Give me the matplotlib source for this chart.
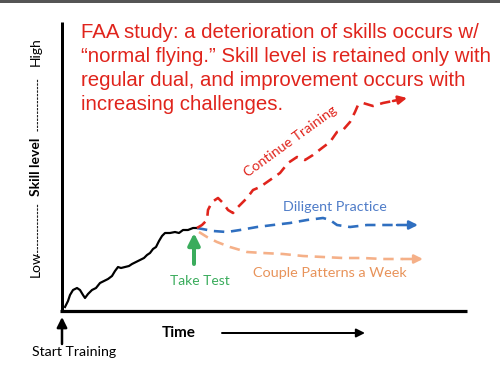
import matplotlib
matplotlib.use("Agg")
import matplotlib.pyplot as plt
import numpy as np

# ---- data (pixel coordinates of the sketch, y downward) ----
title_lines = [
    "FAA study: a deterioration of skills occurs w/",
    "\u201cnormal flying.\u201d Skill level is retained only with",
    "regular dual, and improvement occurs with",
    "increasing challenges.",
]

base_x = [65, 68, 70, 73, 77, 80, 83, 85, 88, 92, 96, 100, 104, 108, 112, 115, 118, 121, 125, 129,
          132, 136, 140, 144, 147, 150, 153, 156, 159, 162, 165, 170, 175, 179, 183, 188, 193, 197]
base_y = [307, 301, 295, 290, 288, 290, 295, 298, 294, 290, 288, 283, 281, 279, 276, 271, 267, 268,
          267, 266, 264, 262, 260, 258, 255, 253, 249, 247, 241, 236, 233, 233, 232, 233, 230, 230, 228, 228]

train_x = [197, 202, 207, 208, 212, 218, 223, 228, 233, 238, 247, 253, 260, 270, 280, 288, 297, 305,
           313, 322, 330, 337, 343, 350, 355, 358, 363, 373, 383, 393, 407]
train_y = [228, 225, 220, 210, 202, 198, 203, 210, 213, 207, 198, 190, 187, 180, 173, 163, 157, 160,
           155, 148, 142, 132, 130, 122, 112, 105, 103, 106, 103, 101, 98]

dilig_x = [197, 213, 227, 240, 257, 273, 290, 307, 323, 330, 337, 350, 367, 383, 397, 418]
dilig_y = [228, 231, 232, 230, 227, 225, 223, 220, 218, 220, 225, 227, 225, 225, 225, 225]

couple_x = [199, 207, 217, 230, 247, 263, 283, 303, 323, 343, 363, 383, 403, 423]
couple_y = [232, 237, 242, 247, 252, 253, 254, 256, 257, 258, 258, 259, 259, 259]

RED = "#e0241c"
BLUE = "#2f6fc0"
BLUE_T = "#4f7cc8"
ORANGE = "#f5b088"
ORANGE_T = "#e8935a"
GREEN = "#3aac5c"

fig = plt.figure(figsize=(5, 3.79), dpi=100)
ax = fig.add_axes([0, 0, 1, 1])
ax.set_xlim(0, 500)
ax.set_ylim(379, 0)
ax.axis("off")

PX = 72 / 100  # points per pixel

# top border
ax.fill_between([0, 500], 0, 2.5, color="#555555", lw=0)

# axes of the sketch
ax.plot([61.5, 61.5], [22, 311], color="black", lw=3 * PX, solid_capstyle="butt")
ax.plot([60, 467], [310.5, 310.5], color="black", lw=3.2 * PX, solid_capstyle="butt")

# title
for i, t in enumerate(title_lines):
    ax.text(81, 32 + i * 24, t, color=RED, fontsize=14.7, family="Liberation Sans",
            ha="left", va="center")

# y label
lab_font = "Lato"
ax.text(35.5, 277, "Low", rotation=90, ha="center", va="bottom", fontsize=10, family=lab_font)
ax.text(35.5, 167, "Skill level", rotation=90, ha="center", va="center",
        fontsize=10, family=lab_font, fontweight="bold")
ax.text(35.5, 37, "High", rotation=90, ha="center", va="top", fontsize=10, family=lab_font)
ax.plot([36.5, 36.5], [256, 204], color="#222222", lw=1.1 * PX, dashes=(2.2, 1.0))
ax.plot([36.5, 36.5], [131, 79], color="#222222", lw=1.1 * PX, dashes=(2.2, 1.0))

# base curve
ax.plot(base_x, base_y, color="black", lw=2.2 * PX, solid_joinstyle="round")

def dashed(xs, ys, color, lw=2.6):
    ax.plot(xs[:-1], ys[:-1], color=color, lw=lw * PX, dashes=(4, 2.6), dash_capstyle="butt")
    ax.annotate("", xy=(xs[-1], ys[-1]), xytext=(xs[-2], ys[-2]),
                arrowprops=dict(arrowstyle="-|>,head_length=0.5,head_width=0.25",
                                color=color, lw=lw * PX, shrinkA=0, shrinkB=0))

dashed(couple_x, couple_y, ORANGE)
dashed(dilig_x, dilig_y, BLUE)
dashed(train_x, train_y, RED)

# labels on curves
ax.text(290, 141, "Continue Training", rotation=36, color=RED, fontsize=10.2,
        family=lab_font, ha="center", va="center", rotation_mode="anchor")
ax.text(335, 207, "Diligent Practice", color=BLUE_T, fontsize=10.3, family=lab_font,
        ha="center", va="center")
ax.text(330, 273, "Couple Patterns a Week", color=ORANGE_T, fontsize=10.4, family=lab_font,
        ha="center", va="center")

# take test arrow
ax.annotate("", xy=(194, 233), xytext=(194, 264),
            arrowprops=dict(arrowstyle="-|>,head_length=0.7,head_width=0.35",
                            color=GREEN, lw=4 * PX, shrinkA=0, shrinkB=0))
ax.text(200, 281, "Take Test", color=GREEN, fontsize=10, family=lab_font,
        ha="center", va="center")

# start training arrow
ax.annotate("", xy=(62, 317), xytext=(62, 344),
            arrowprops=dict(arrowstyle="-|>,head_length=0.6,head_width=0.3",
                            color="black", lw=2.5 * PX, shrinkA=0, shrinkB=0))
ax.text(74.5, 352, "Start Training", color="black", fontsize=10.2, family=lab_font,
        ha="center", va="center")

# time arrow
ax.text(179, 333, "Time", fontsize=11, fontweight="bold", family=lab_font,
        ha="center", va="center")
ax.annotate("", xy=(365, 333), xytext=(222, 333),
            arrowprops=dict(arrowstyle="-|>,head_length=0.5,head_width=0.25",
                            color="black", lw=2 * PX, shrinkA=0, shrinkB=0))

fig.savefig("out.png", dpi=100)
